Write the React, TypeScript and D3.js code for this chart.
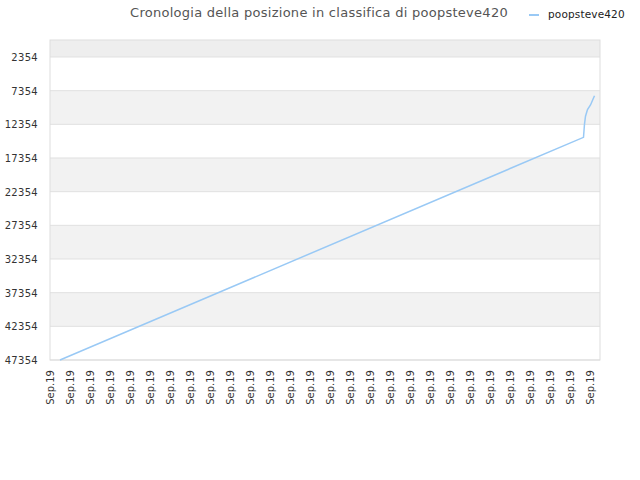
import React from "react";
import * as d3 from "d3";

const title = "Cronologia della posizione in classifica di poopsteve420";
const seriesName = "poopsteve420";
const yTicks = [2354, 7354, 12354, 17354, 22354, 27354, 32354, 37354, 42354, 47354];
const xLabels = Array.from({ length: 28 }, () => "Sep.19");
// point positions (index on the time axis) and ranks
const pointIndex = [2, 106.7, 106.9, 107.1, 107.5, 108.1, 108.9];
const pointRank = [47354, 14283, 12310, 11150, 10150, 9480, 8100];

const W = 640, H = 480;
const left = 50, right = 600, top = 40, bottom = 360;

export default function App() {
  const x = d3.scaleLinear().domain([0, 110]).range([left, right]);
  const y = d3.scaleLinear().domain([-170, 47354]).range([top, bottom]);
  const line = d3.line<number>().x((_, i) => x(pointIndex[i])).y((d) => y(d));
  const font = "DejaVu Sans, sans-serif";
  const bands = [];
  bands.push({ y0: top, y1: y(yTicks[0]), fill: "#eeeeee" });
  for (let i = 0; i < yTicks.length - 1; i++) {
    bands.push({ y0: y(yTicks[i]), y1: y(yTicks[i + 1]), fill: i % 2 === 1 ? "#f2f2f2" : "#ffffff" });
  }
  return (
    <svg width={W} height={H} style={{ position: "absolute", left: 0, top: 0, background: "#fff" }}>
      <text x={319} y={17} textAnchor="middle" fontFamily={font} fontSize={13} letterSpacing={0.27} fill="#555">{title}</text>
      <line x1={529} x2={539} y1={15} y2={15} stroke="#99c9f5" strokeWidth={2} />
      <text x={548} y={18} fontFamily={font} fontSize={10.5} letterSpacing={0.15} fill="#222">{seriesName}</text>
      {bands.map((b, i) => (
        <rect key={i} x={left} y={b.y0} width={right - left} height={b.y1 - b.y0} fill={b.fill} />
      ))}
      {yTicks.map((t) => (
        <line key={"g" + t} x1={left} x2={right} y1={y(t)} y2={y(t)} stroke="#e0e0e0" strokeWidth={1} />
      ))}
      <rect x={left} y={top} width={right - left} height={bottom - top} fill="none" stroke="#dddddd" strokeWidth={1} />
      {yTicks.map((t) => (
        <text key={"t" + t} x={38} y={y(t) + 4} textAnchor="end" fontFamily={font} fontSize={10} letterSpacing={0.3} fill="#333">{t}</text>
      ))}
      {xLabels.map((l, i) => {
        const xx = x(i * 4);
        return (
          <text key={"x" + i} transform={`translate(${xx + 3.5},${370}) rotate(-90)`} textAnchor="end" fontFamily={font} fontSize={10} fill="#333">{l}</text>
        );
      })}
      <path d={line(pointRank) || ""} fill="none" stroke="#99c9f5" strokeWidth={1.5} />
    </svg>
  );
}
